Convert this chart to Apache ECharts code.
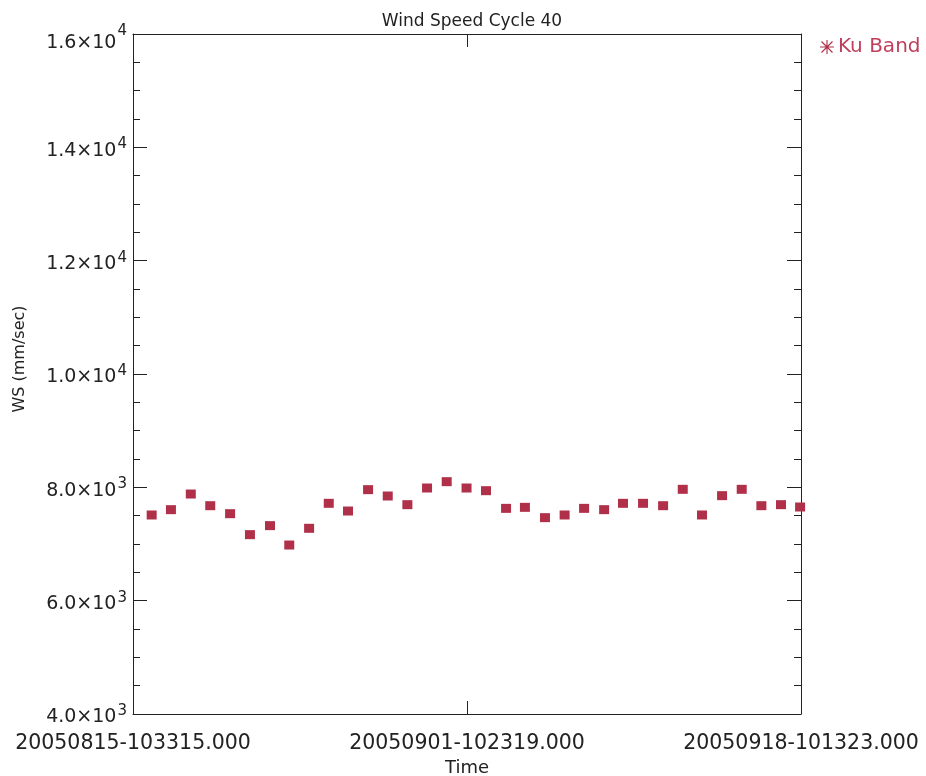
<!DOCTYPE html>
<html>
<head>
<meta charset="utf-8">
<script src="https://cdn.jsdelivr.net/npm/echarts@6/dist/echarts.min.js"></script>
<style>html,body{margin:0;padding:0;background:#fff}#c{width:926px;height:776px}</style>
</head>
<body>
<div id="c"></div>
<script>
// ---- data ----
var titleText = 'Wind Speed Cycle 40';
var seriesName = 'Ku Band';
var xTickLabels = ['20050815-103315.000', '20050901-102319.000', '20050918-101323.000'];
var xSpanDays = 33.9862; // 20050815-103315 .. 20050918-101323
var yTickLabels = [['4.0','3'],['6.0','3'],['8.0','3'],['1.0','4'],['1.2','4'],['1.4','4'],['1.6','4']];
// sample times, days after 20050815-103315
var sampleDays = [0.95, 1.93, 2.94, 3.93, 4.94, 5.95, 6.97, 7.95, 8.96, 9.96,
                  10.94, 11.96, 12.96, 13.96, 14.96, 15.96, 16.97, 17.96, 18.98, 19.94,
                  20.96, 21.96, 22.95, 23.97, 24.93, 25.95, 26.97, 27.97, 28.95, 29.97,
                  30.97, 31.97, 32.97, 33.94];
var windSpeed = [7512, 7606, 7882, 7676, 7535, 7165, 7324, 6982, 7277, 7718,
                 7582, 7959, 7847, 7694, 7988, 8100, 7988, 7941, 7629, 7647,
                 7465, 7512, 7629, 7606, 7718, 7718, 7676, 7965, 7512, 7853,
                 7965, 7676, 7694, 7653];

var chart = echarts.init(document.getElementById('c'));
var pts = sampleDays.map(function (d, i) { return [d, windSpeed[i]]; });
var half = xSpanDays / 2;
var ink = '#222';
var red = '#b0304a';
var star = 'path://M0 9.2L20 9.2L20 10.8L0 10.8Z M9.2 0L10.8 0L10.8 20L9.2 20Z M1.6 2.7L2.7 1.6L18.4 17.3L17.3 18.4Z M17.3 1.6L18.4 2.7L2.7 18.4L1.6 17.3Z';

function yAxisCfg(showLabel, pos) {
  return {
    type: 'value', position: pos, min: 4000, max: 16000, interval: 2000,
    axisLine: { show: true, onZero: false, lineStyle: { color: ink, width: 1 } },
    axisTick: { show: true, inside: true, length: 14, lineStyle: { color: ink } },
    minorTick: { show: true, splitNumber: 4, length: 7, lineStyle: { color: ink } },
    splitLine: { show: false },
    axisLabel: {
      show: showLabel, margin: 6,
      formatter: function (v) {
        var t = yTickLabels[Math.round((v - 4000) / 2000)];
        if (!t) return '';
        return (v === 16000 ? '{t|' : '{m|') + t[0] + '×10}{s|' + t[1] + '}';
      },
      rich: {
        m: { fontFamily: 'DejaVu Sans', fontSize: 19, color: ink, padding: [7, 0, 0, 0] },
        t: { fontFamily: 'DejaVu Sans', fontSize: 19, color: ink, padding: [18, 0, 0, 0] },
        s: { fontFamily: 'DejaVu Sans', fontSize: 15, color: ink, padding: [0, 0, 6, 1] }
      }
    },
    name: showLabel ? 'WS (mm/sec)' : '',
    nameLocation: 'middle', nameGap: 105, nameRotate: 90,
    nameTextStyle: { fontFamily: 'DejaVu Sans', fontSize: 16, color: ink, padding: [0, 0, 0, 30] }
  };
}
function xAxisCfg(showLabel, pos) {
  return {
    type: 'value', position: pos, min: 0, max: 2 * half, interval: half,
    axisLine: { show: true, onZero: false, lineStyle: { color: ink, width: 1 } },
    axisTick: { show: true, inside: true, length: 13, lineStyle: { color: ink } },
    splitLine: { show: false },
    axisLabel: {
      show: showLabel, margin: 19, showMinLabel: true, showMaxLabel: true,
      fontFamily: 'DejaVu Sans', fontSize: 20.5, color: ink,
      formatter: function (v) { return xTickLabels[Math.round(v / half)] || ''; }
    },
    name: showLabel ? 'Time' : '',
    nameLocation: 'middle', nameGap: 45,
    nameTextStyle: { fontFamily: 'DejaVu Sans', fontSize: 18, color: ink }
  };
}

chart.setOption({
  animation: false,
  backgroundColor: '#fff',
  title: {
    text: titleText, left: 467, top: 8, textAlign: 'center',
    textStyle: { fontFamily: 'DejaVu Sans', fontSize: 17, fontWeight: 'normal', color: ink }
  },
  legend: {
    left: 815, top: 32, itemWidth: 14, itemHeight: 14, itemGap: 6,
    data: [{ name: seriesName, icon: star }],
    textStyle: { fontFamily: 'DejaVu Sans', fontSize: 20, color: '#c0405c', padding: [0, 0, 0, -1] }
  },
  grid: { left: 133, right: 125, top: 34, bottom: 62, containLabel: false, outerBoundsMode: 'none' },
  xAxis: [xAxisCfg(true, 'bottom'), xAxisCfg(false, 'top')],
  yAxis: [yAxisCfg(true, 'left'), yAxisCfg(false, 'right')],
  series: [{
    name: seriesName, type: 'scatter', xAxisIndex: 0, yAxisIndex: 0,
    symbol: 'rect', symbolSize: [10, 9],
    itemStyle: { color: red, opacity: 1 },
    data: pts
  }]
});
</script>
</body>
</html>
